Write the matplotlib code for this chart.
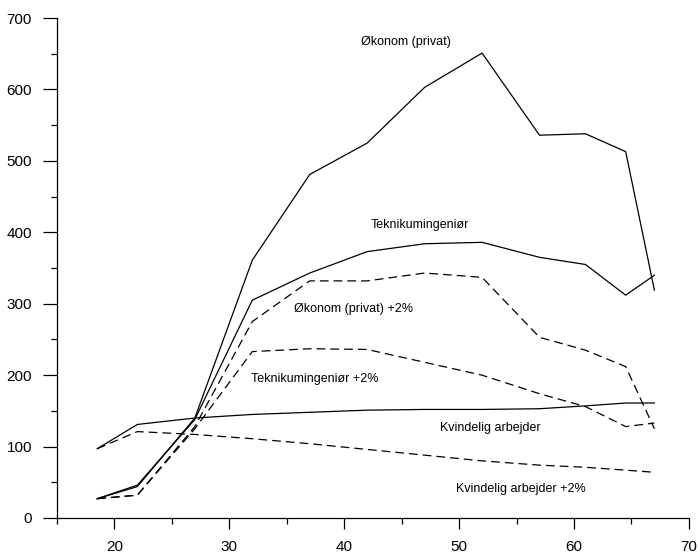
import matplotlib
matplotlib.use("Agg")
import matplotlib.pyplot as plt
from matplotlib.ticker import MultipleLocator

plt.rcParams['font.family'] = ['Liberation Sans', 'DejaVu Sans']

# alder
age = [18.5, 22, 27, 32, 37, 42, 47, 52, 57, 61, 64.5, 67]

okonom = [27, 44, 140, 361, 481, 525, 603, 651, 536, 538, 513, 319]
teknikum = [27, 46, 138, 305, 343, 373, 384, 386, 365, 355, 312, 340]
okonom_2 = [27, 32, 128, 275, 332, 332, 343, 337, 253, 235, 212, 125]
teknikum_2 = [27, 32, 125, 233, 237, 236, 218, 200, 174, 156, 128, 133]
kvinde = [97, 131, 140, 145, 148, 151, 152, 152, 153, 157, 161, 161]
kvinde_2 = [97, 121, 117, 111, 104, 96, 88, 80, 74, 71, 67, 64]

fig = plt.figure(figsize=(6.99, 5.53), dpi=100)
ax = fig.add_axes([0.0815, 0.0633, 0.904, 0.904])

lw = 0.9
dash = (0, (7, 4))
ax.plot(age, okonom, color='black', lw=lw)
ax.plot(age, teknikum, color='black', lw=lw)
ax.plot(age, okonom_2, color='black', lw=lw, linestyle=dash)
ax.plot(age, teknikum_2, color='black', lw=lw, linestyle=dash)
ax.plot(age, kvinde, color='black', lw=lw)
ax.plot(age, kvinde_2, color='black', lw=lw, linestyle=dash)

fs = 9
ax.text(45.4, 667, 'Økonom (privat)', fontsize=fs, ha='center', va='center')
ax.text(46.6, 410, 'Teknikumingeniør', fontsize=fs, ha='center', va='center')
ax.text(40.8, 292, 'Økonom (privat) +2%', fontsize=fs, ha='center', va='center')
ax.text(37.4, 194, 'Teknikumingeniør +2%', fontsize=fs, ha='center', va='center')
ax.text(52.7, 126, 'Kvindelig arbejder', fontsize=fs, ha='center', va='center')
ax.text(55.4, 40, 'Kvindelig arbejder +2%', fontsize=fs, ha='center', va='center')

ax.set_xlim(15, 70)
ax.set_ylim(0, 700)
ax.xaxis.set_major_locator(MultipleLocator(10))
ax.xaxis.set_minor_locator(MultipleLocator(5))
ax.yaxis.set_major_locator(MultipleLocator(100))
ax.yaxis.set_minor_locator(MultipleLocator(50))
ax.spines['top'].set_visible(False)
ax.spines['right'].set_visible(False)
for s in ['left', 'bottom']:
    ax.spines[s].set_linewidth(0.9)
ax.tick_params(which='major', length=8, width=0.9, labelsize=11, pad=8)
ax.tick_params(which='minor', length=4, width=0.9)
ax.tick_params(axis='y', which='major', length=10)

fig.savefig('out.png', dpi=100)
